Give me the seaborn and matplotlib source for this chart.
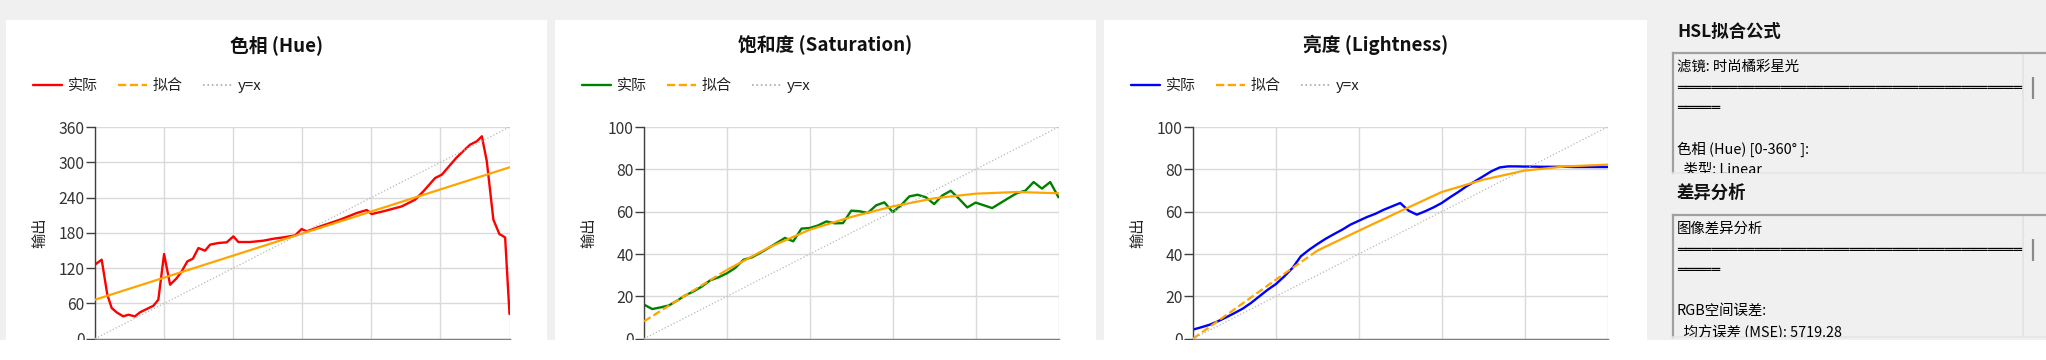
import numpy as np
import matplotlib
matplotlib.use("Agg")
import matplotlib.pyplot as plt
import seaborn as sns
from matplotlib.lines import Line2D
from matplotlib.patches import Rectangle

# ---------------- data ----------------
hue_x = [0, 5.8, 10.7, 14.5, 18.8, 24.6, 29, 34.7, 39, 44.9, 50.7, 55, 60, 65.2, 71, 75.3,
         80.2, 85, 89.8, 95.6, 100, 107.1, 114.4, 120.2, 124.5, 134.7, 146.3, 155, 163.6,
         173.8, 179.5, 183.9, 198.3, 212.8, 227.3, 236, 240.3, 250.4, 266.4, 278, 285.2,
         295.4, 301.2, 314.2, 325.8, 331.6, 336, 340.3, 346, 351.2, 356.2, 360]
hue_actual = [125.9, 134.4, 74.8, 52.2, 44.8, 38, 40.8, 38, 44.8, 50.5, 56, 66.3, 144, 91.8,
              103, 114.5, 131.5, 136, 154.2, 149.7, 160, 162.7, 163.9, 174, 164.4, 164.4,
              166.7, 170, 172.3, 175.7, 186.5, 182.6, 192.8, 202.4, 213.7, 218.8, 212, 216.6,
              225, 236.4, 250.6, 273.3, 278.9, 308.4, 330, 335.7, 344.2, 301.6, 202.4, 178,
              172.3, 42]
hue_fit_x = [0, 360]
hue_fit = [66.3, 291.4]

sl_x = list(range(0, 101, 2))
sat_actual = [16.1, 14, 14.8, 15.7, 18, 20.5, 22.4, 24.7, 27.6, 29, 30.9, 33.4, 37.3, 38.4,
              40.5, 42.8, 45.2, 47.6, 46, 52, 52.3, 53.5, 55.4, 54.5, 54.6, 60.5, 60.2, 59.4,
              63, 64.4, 59.8, 63, 67.2, 68, 66.8, 63.6, 67.7, 69.9, 66.1, 62, 64.3, 63, 61.7,
              64.1, 66.5, 68.8, 69.9, 74, 70.9, 74, 66.8]
light_actual = [4.3, 5.4, 6.6, 8.2, 10.1, 12.1, 14.2, 16.9, 20, 23.1, 25.8, 29.4, 33.4, 38.9,
                42, 44.7, 47.2, 49.4, 51.5, 53.9, 55.7, 57.5, 59, 60.9, 62.5, 64.1, 60.5, 58.6,
                60.2, 62, 64.1, 66.8, 69.3, 72, 74.3, 76.7, 79.1, 80.9, 81.4, 81.4, 81.3, 81.3,
                81.2, 81.2, 81.2, 81.2, 81.1, 81.1, 81.1, 81.1, 81.1]
fit_x = [0, 10, 20, 30, 40, 50, 60, 70, 80, 90, 100]
sat_fit = [8.2, 20.5, 32.5, 43, 51.5, 57.5, 62.5, 66.3, 68.5, 69.3, 68.7]
light_fit = [0, 13.9, 27.9, 41.6, 51, 60.2, 69.3, 75.1, 79.4, 81.4, 82.2]

titles = ["色相 (Hue)", "饱和度 (Saturation)", "亮度 (Lightness)"]
legend_labels = ["实际", "拟合", "y=x"]
y_label = "输出"
hue_ticks = [0, 60, 120, 180, 240, 300, 360]
pct_ticks = [0, 20, 40, 60, 80, 100]

box1_title = "HSL拟合公式"
box1_lines = ["滤镜: 时尚橘彩星光", "═" * 40, "═" * 5, "", "色相 (Hue) [0-360° ]:", "  类型: Linear"]
box2_title = "差异分析"
box2_lines = ["图像差异分析", "═" * 40, "═" * 5, "", "RGB空间误差:", "  均方误差 (MSE): 5719.28"]

# ---------------- style ----------------
sns.set_style("white")
plt.rcParams["font.family"] = ["Noto Sans CJK SC", "DejaVu Sans"]
plt.rcParams["axes.unicode_minus"] = False

W, H = 2046, 360
fig = plt.figure(figsize=(W / 100, H / 100), dpi=100)
fig.patch.set_facecolor("#f0f0f0")

ORANGE = "#ffa500"
DASH = (0, (3.5, 1.5))
TXT = "#333333"


def fx(px):
    return px / W


def fy(py):
    return 1 - py / H


panels = [
    dict(left=6, right=547, ax_l=95, ax_r=509.5, color="#ff0000", x=hue_x, y=hue_actual,
         fx_=hue_fit_x, fy_=hue_fit, lim=360, ticks=hue_ticks),
    dict(left=555, right=1096, ax_l=644, ax_r=1058.5, color="#008000", x=sl_x, y=sat_actual,
         fx_=fit_x, fy_=sat_fit, lim=100, ticks=pct_ticks),
    dict(left=1104, right=1647, ax_l=1193, ax_r=1607.5, color="#0000ff", x=sl_x, y=light_actual,
         fx_=fit_x, fy_=light_fit, lim=100, ticks=pct_ticks),
]

AX_TOP, AX_BOT = 127, 338.7


def draw_fit(ax, xs, ys):
    xs = np.asarray(xs, float)
    ys = np.asarray(ys, float)
    pts = ax.transData.transform(np.column_stack([xs, ys]))
    d = np.diff(pts, axis=0)
    steep = np.abs(d[:, 1]) > 0.56 * np.abs(d[:, 0])
    start = 0
    n = len(steep)
    for i in range(1, n + 1):
        if i == n or steep[i] != steep[start]:
            sl = slice(start, i + 1)
            ls = DASH if steep[start] else "-"
            sns.lineplot(x=xs[sl], y=ys[sl], ax=ax, color=ORANGE, linewidth=1.6,
                         linestyle=ls, estimator=None, sort=False, legend=False, zorder=3)
            start = i


for p, title in zip(panels, titles):
    # white card
    fig.add_artist(Rectangle((fx(p["left"]), 0), fx(p["right"] - p["left"]), fy(19.5),
                             transform=fig.transFigure, facecolor="white", edgecolor="none",
                             zorder=-5))
    ax = fig.add_axes([fx(p["ax_l"]), fy(AX_BOT), fx(p["ax_r"] - p["ax_l"]),
                       (AX_BOT - AX_TOP) / H])
    ax.set_facecolor("white")
    lim = p["lim"]
    ax.set_xlim(0, lim)
    ax.set_ylim(0, lim)
    ax.set_xticks(p["ticks"])
    ax.set_yticks(p["ticks"])
    ax.grid(True, color="#dadada", linewidth=1.0)
    ax.set_axisbelow(True)

    sns.lineplot(x=p["x"], y=p["y"], ax=ax, color=p["color"], linewidth=1.7,
                 estimator=None, sort=False, legend=False, zorder=2)
    draw_fit(ax, p["fx_"], p["fy_"])
    sns.lineplot(x=[0, lim], y=[0, lim], ax=ax, color="#b8b8b8", linewidth=0.9,
                 linestyle=":", estimator=None, legend=False, zorder=4)

    for s in ["top", "right"]:
        ax.spines[s].set_visible(False)
    ax.spines["left"].set_color("#404040")
    ax.spines["left"].set_linewidth(1.0)
    ax.spines["bottom"].set_color("#808080")
    ax.spines["bottom"].set_linewidth(1.0)
    ax.tick_params(axis="y", left=True, length=6.5, width=1, color="#404040", pad=1,
                   labelsize=11.3, labelcolor=TXT)
    # x tick labels sit below the visible part of the screenshot
    ax.tick_params(axis="x", bottom=True, length=6.5, width=1, color="#808080",
                   labelbottom=False)
    ax.set_xlabel("")
    ax.set_ylabel(y_label, fontsize=11, color="#222222", va="center")
    ax.yaxis.set_label_coords((35 - p["ax_l"] + p["left"] - 6 + 5) / (p["ax_r"] - p["ax_l"]), 0.5)

    # title centred on the card
    fig.text(fx((p["left"] + p["right"]) / 2), fy(45), title, ha="center", va="center",
             fontsize=13.5, fontweight="bold", color="#111111")

    handles = [Line2D([], [], color=p["color"], lw=1.7),
               Line2D([], [], color=ORANGE, lw=1.7, linestyle=DASH),
               Line2D([], [], color="#a8a8a8", lw=1.2, linestyle=":")]
    leg = ax.legend(handles, legend_labels, loc="center left",
                    bbox_to_anchor=(fx(p["left"] + 27), fy(86)),
                    bbox_transform=fig.transFigure, ncol=3, frameon=False,
                    fontsize=10.8, handlelength=1.95, handletextpad=0.4,
                    columnspacing=1.3, borderpad=0, borderaxespad=0)
    for t in leg.get_texts():
        t.set_color("#222222")


# ---------------- right side text boxes ----------------
def text_box(header, header_y, top, bottom, lines):
    fig.text(fx(1677), fy(header_y), header, ha="left", va="center", fontsize=12.5,
             fontweight="bold", color="#111111")
    bx = fig.add_axes([fx(1673), fy(bottom), fx(W - 1673) + 0.01, (bottom - top) / H])
    bx.set_facecolor("#f0f0f0")
    bx.set_xlim(0, 1)
    bx.set_ylim(0, 1)
    bx.set_xticks([])
    bx.set_yticks([])
    bx.spines["right"].set_visible(False)
    bx.spines["top"].set_color("#a0a0a0")
    bx.spines["left"].set_color("#a0a0a0")
    bx.spines["top"].set_linewidth(1.6)
    bx.spines["left"].set_linewidth(1.6)
    bx.spines["bottom"].set_color("#e6e6e6")
    bx.spines["bottom"].set_linewidth(1.2)
    h = bottom - top
    wpx = W - 1673 + 0.01 * W
    # scrollbar divider and thumb
    bx.axvline((2023 - 1673) / wpx, color="#e2e2e2", lw=1.2)
    bx.plot([(2033 - 1673) / wpx] * 2, [1 - 24 / h, 1 - 46 / h],
            color="#8a8a8a", lw=1.6, solid_capstyle="butt")
    for i, line in enumerate(lines):
        yc = top + 14 + 20.6 * i
        if line.startswith("═"):
            bx.text((1677 - 1673) / wpx, 1 - (yc - top) / h, line, ha="left", va="center",
                    fontsize=10.4, color="#000000", clip_on=True, family="DejaVu Sans Mono")
        else:
            bx.text((1677 - 1673) / wpx, 1 - (yc - top) / h, line, ha="left", va="center",
                    fontsize=10.4, color="#000000", clip_on=True)


text_box(box1_title, 32, 53, 173, box1_lines)
text_box(box2_title, 193, 215, 337, box2_lines)

# white strip at the bottom of the screenshot
fig.add_artist(Rectangle((0, 0), 1, 20 / H, transform=fig.transFigure, facecolor="white",
                         edgecolor="none", zorder=100))

fig.savefig("out.png", dpi=100, facecolor=fig.get_facecolor())
